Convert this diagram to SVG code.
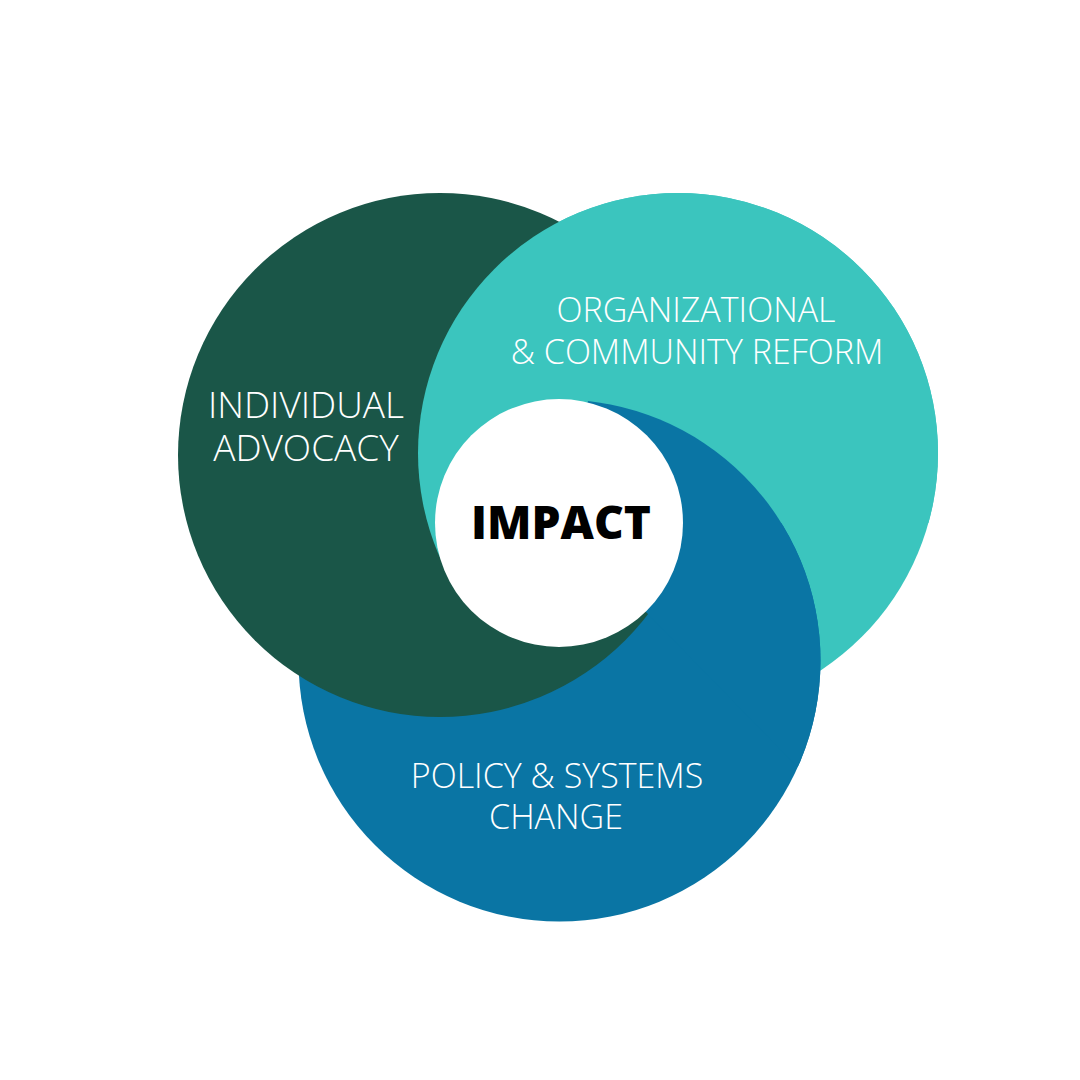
<svg xmlns="http://www.w3.org/2000/svg" xmlns:xlink="http://www.w3.org/1999/xlink" width="1080" height="1080" viewBox="0 0 1080 1080">
  <style>
    .green { fill: #1A5648; }
    .teal { fill: #3BC5BE; }
    .blue { fill: #0A75A4; }
    .label { font-family: "Open Sans", "Liberation Sans", sans-serif; font-weight: 300; font-size: 34px; fill: #FFFFFF; text-anchor: middle; }
    .label-lg { font-size: 37px; }
    .impact { font-family: "Open Sans", "Liberation Sans", sans-serif; font-weight: 800; font-size: 46px; fill: #000000; text-anchor: middle; }
  </style>
  <defs>
    <circle id="c-green" cx="440" cy="455" r="262"/>
    <circle id="c-teal" cx="678" cy="453" r="260"/>
    <circle id="c-blue" cx="559.5" cy="660.5" r="261"/>
    <clipPath id="clip-teal-top">
      <polygon points="559,523 -36,698 -100,-100 1250,-100 1250,523"/>
    </clipPath>
    <clipPath id="clip-blue-top">
      <polygon points="559,523 704,-87 1250,-100 1255,1235"/>
    </clipPath>
  </defs>
  <rect x="0" y="0" width="1080" height="1080" fill="#FFFFFF"/>
  <g id="base">
    <use xlink:href="#c-teal" class="teal"/>
    <use xlink:href="#c-blue" class="blue"/>
  </g>
  <g id="node-individual">
    <use xlink:href="#c-green" class="green"/>
    <text class="label label-lg" x="306" y="418">INDIVIDUAL</text>
    <text class="label label-lg" x="306" y="461">ADVOCACY</text>
  </g>
  <g id="node-organizational">
    <use xlink:href="#c-teal" class="teal" clip-path="url(#clip-teal-top)"/>
    <text class="label" x="696" y="322">ORGANIZATIONAL</text>
    <text class="label" x="697" y="364">&amp; COMMUNITY REFORM</text>
  </g>
  <g id="node-policy">
    <use xlink:href="#c-blue" class="blue" clip-path="url(#clip-blue-top)"/>
    <text class="label" x="557" y="788">POLICY &amp; SYSTEMS</text>
    <text class="label" x="556" y="829">CHANGE</text>
  </g>
  <g id="connectors"/>
  <g id="node-impact">
    <circle cx="559" cy="523" r="124" fill="#FFFFFF"/>
    <text class="impact" x="561" y="539">IMPACT</text>
  </g>
</svg>
